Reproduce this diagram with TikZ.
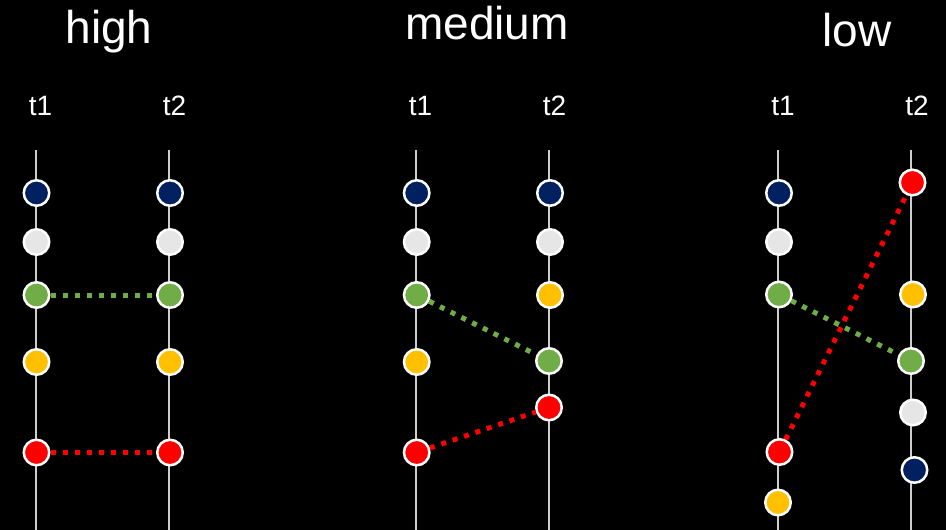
\documentclass[tikz,border=0pt]{standalone}
\usepackage{fontspec}
\setmainfont{Liberation Sans}
\definecolor{navyc}{HTML}{002060}
\definecolor{greyc}{HTML}{E6E6E6}
\definecolor{greenc}{HTML}{70AD47}
\definecolor{yellowc}{HTML}{FFC000}
\definecolor{redc}{HTML}{FF0000}
\definecolor{axisc}{RGB}{205,205,205}
\tikzset{
  title/.style={text=white, font=\fontsize{46}{50}\selectfont, anchor=base, inner sep=0pt},
  tlabel/.style={text=white, font=\fontsize{28}{32}\selectfont, anchor=base, inner sep=0pt},
  axis/.style={draw=axisc, line width=2pt},
  dot/.style={circle, minimum size=25.5pt, inner sep=0pt, draw=white, line width=2.5pt, fill=#1},
  link/.style={draw=#1, line width=5pt, dash pattern=on 5pt off 7pt},
}
\begin{document}
\begin{tikzpicture}[x=1pt, y=-1pt]
  \fill[black] (0,0) rectangle (946,530);
  \useasboundingbox (0,0) rectangle (946,530);

  % ---------- high ----------
  \node[title] (hT) at (109,43) {high};
  \node[tlabel] (hA) at (40.5,115) {t1};
  \node[tlabel] (hB) at (174.5,115) {t2};
  \coordinate (hAtop) at (35.5,150); \coordinate (hAbot) at (35.5,530);
  \coordinate (hBtop) at (168.5,150); \coordinate (hBbot) at (168.5,530);
  \draw[axis] (hAtop) -- (hAbot);
  \draw[axis] (hBtop) -- (hBbot);
  \node[dot=navyc]   (h1n) at (36.5,193) {};
  \node[dot=greyc]   (h1g) at (36.5,242) {};
  \node[dot=greenc]  (h1e) at (36.5,295) {};
  \node[dot=yellowc] (h1y) at (36.5,362) {};
  \node[dot=redc]    (h1r) at (36.5,452.5) {};
  \node[dot=navyc]   (h2n) at (170,193) {};
  \node[dot=greyc]   (h2g) at (170,242) {};
  \node[dot=greenc]  (h2e) at (170,295) {};
  \node[dot=yellowc] (h2y) at (170,362) {};
  \node[dot=redc]    (h2r) at (170,452.5) {};
  \draw[link=greenc] (h1e) -- (h2e);
  \draw[link=redc]   (h1r) -- (h2r);

  % ---------- medium ----------
  \node[title] (mT) at (487,39) {medium};
  \node[tlabel] (mA) at (420.5,115) {t1};
  \node[tlabel] (mB) at (554.5,115) {t2};
  \coordinate (mAtop) at (415.7,150); \coordinate (mAbot) at (415.7,530);
  \coordinate (mBtop) at (549,150); \coordinate (mBbot) at (549,530);
  \draw[axis] (mAtop) -- (mAbot);
  \draw[axis] (mBtop) -- (mBbot);
  \node[dot=navyc]   (m1n) at (416.7,193) {};
  \node[dot=greyc]   (m1g) at (416.7,242) {};
  \node[dot=greenc]  (m1e) at (416.7,295) {};
  \node[dot=yellowc] (m1y) at (416.7,362) {};
  \node[dot=redc]    (m1r) at (416.7,452.5) {};
  \node[dot=navyc]   (m2n) at (550,193) {};
  \node[dot=greyc]   (m2g) at (550,242) {};
  \node[dot=yellowc] (m2y) at (550,295) {};
  \node[dot=greenc]  (m2e) at (549,361) {};
  \node[dot=redc]    (m2r) at (549,407.5) {};
  \draw[link=greenc] (m1e) -- (m2e);
  \draw[link=redc]   (m1r) -- (m2r);

  % ---------- low ----------
  \node[title] (lT) at (857,46) {low};
  \node[tlabel] (lA) at (783,115) {t1};
  \node[tlabel] (lB) at (917,115) {t2};
  \coordinate (lAtop) at (778,150); \coordinate (lAbot) at (778,530);
  \coordinate (lBtop) at (911,150); \coordinate (lBbot) at (911,530);
  \draw[axis] (lAtop) -- (lAbot);
  \draw[axis] (lBtop) -- (lBbot);
  \node[dot=navyc]   (l1n) at (779,193) {};
  \node[dot=greyc]   (l1g) at (779,242) {};
  \node[dot=greenc]  (l1e) at (779,294.5) {};
  \node[dot=redc]    (l1r) at (779.5,452) {};
  \node[dot=yellowc] (l1y) at (778,502.5) {};
  \node[dot=redc]    (l2r) at (912.5,182.5) {};
  \node[dot=yellowc] (l2y) at (913,294.5) {};
  \node[dot=greenc]  (l2e) at (911,361) {};
  \node[dot=greyc]   (l2g) at (913,412.5) {};
  \node[dot=navyc]   (l2n) at (914.5,470) {};
  \draw[link=greenc] (l1e) -- (l2e);
  \draw[link=redc]   (l1r) -- (l2r);
\end{tikzpicture}
\end{document}
